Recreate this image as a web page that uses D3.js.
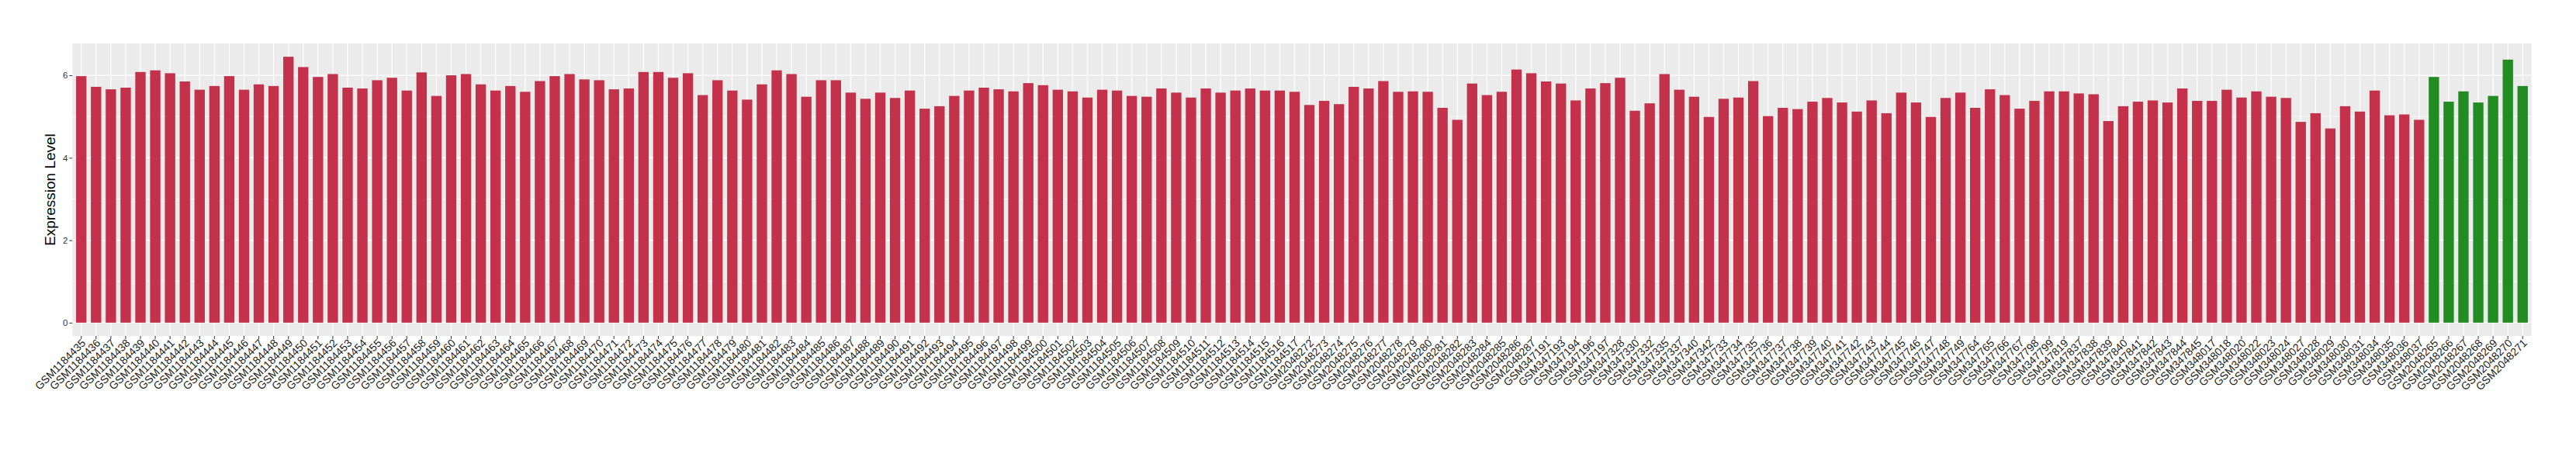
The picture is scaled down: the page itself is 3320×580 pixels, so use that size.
<!DOCTYPE html>
<html>
<head>
<meta charset="utf-8">
<script src="https://cdn.jsdelivr.net/npm/d3@7"></script>
<style>
  html, body { margin: 0; padding: 0; background: #fff; }
  svg { display: block; }
</style>
</head>
<body>
<svg id="chart" width="3320" height="580"></svg>
<script>
const samples = [
  "GSM1184435","GSM1184436","GSM1184437","GSM1184438","GSM1184439","GSM1184440","GSM1184441","GSM1184442","GSM1184443","GSM1184444",
  "GSM1184445","GSM1184446","GSM1184447","GSM1184448","GSM1184449","GSM1184450","GSM1184451","GSM1184452","GSM1184453","GSM1184454",
  "GSM1184455","GSM1184456","GSM1184457","GSM1184458","GSM1184459","GSM1184460","GSM1184461","GSM1184462","GSM1184463","GSM1184464",
  "GSM1184465","GSM1184466","GSM1184467","GSM1184468","GSM1184469","GSM1184470","GSM1184471","GSM1184472","GSM1184473","GSM1184474",
  "GSM1184475","GSM1184476","GSM1184477","GSM1184478","GSM1184479","GSM1184480","GSM1184481","GSM1184482","GSM1184483","GSM1184484",
  "GSM1184485","GSM1184486","GSM1184487","GSM1184488","GSM1184489","GSM1184490","GSM1184491","GSM1184492","GSM1184493","GSM1184494",
  "GSM1184495","GSM1184496","GSM1184497","GSM1184498","GSM1184499","GSM1184500","GSM1184501","GSM1184502","GSM1184503","GSM1184504",
  "GSM1184505","GSM1184506","GSM1184507","GSM1184508","GSM1184509","GSM1184510","GSM1184511","GSM1184512","GSM1184513","GSM1184514",
  "GSM1184515","GSM1184516","GSM1184517",
  "GSM2048272","GSM2048273","GSM2048274","GSM2048275","GSM2048276","GSM2048277","GSM2048278","GSM2048279","GSM2048280","GSM2048281",
  "GSM2048282","GSM2048283","GSM2048284","GSM2048285","GSM2048286","GSM2048287",
  "GSM347191","GSM347193","GSM347194","GSM347196","GSM347197","GSM347328","GSM347330","GSM347332","GSM347335","GSM347337",
  "GSM347340","GSM347342","GSM347733","GSM347734","GSM347735","GSM347736","GSM347737","GSM347738","GSM347739","GSM347740",
  "GSM347741","GSM347742","GSM347743","GSM347744","GSM347745","GSM347746","GSM347747","GSM347748","GSM347749","GSM347764",
  "GSM347765","GSM347766","GSM347767","GSM347798","GSM347799","GSM347819","GSM347837","GSM347838","GSM347839","GSM347840",
  "GSM347841","GSM347842","GSM347843","GSM347844","GSM347845","GSM348017","GSM348018","GSM348020","GSM348022","GSM348023",
  "GSM348024","GSM348027","GSM348028","GSM348029","GSM348030","GSM348031","GSM348034","GSM348035","GSM348036","GSM348037",
  "GSM2048265","GSM2048266","GSM2048267","GSM2048268","GSM2048269","GSM2048270","GSM2048271"
];

const values = [
  5.98,5.72,5.66,5.70,6.08,6.12,6.05,5.85,5.65,5.74,
  5.98,5.65,5.78,5.74,6.45,6.20,5.96,6.03,5.70,5.68,
  5.88,5.94,5.63,6.07,5.50,6.00,6.03,5.78,5.63,5.74,
  5.60,5.86,5.98,6.03,5.90,5.88,5.66,5.68,6.08,6.08,
  5.94,6.05,5.52,5.88,5.63,5.41,5.78,6.12,6.03,5.48,
  5.88,5.88,5.58,5.43,5.58,5.45,5.63,5.19,5.25,5.50,
  5.63,5.70,5.66,5.61,5.81,5.76,5.65,5.61,5.46,5.65,
  5.63,5.50,5.48,5.68,5.58,5.46,5.68,5.58,5.63,5.68,
  5.63,5.63,5.60,
  5.28,5.38,5.30,5.72,5.68,5.86,5.60,5.61,5.60,5.21,
  4.92,5.80,5.52,5.60,6.14,6.05,
  5.85,5.80,5.39,5.68,5.81,5.94,5.14,5.32,6.03,5.65,
  5.48,4.99,5.43,5.46,5.86,5.01,5.21,5.18,5.36,5.45,
  5.34,5.12,5.39,5.08,5.58,5.34,4.99,5.45,5.58,5.21,
  5.66,5.52,5.19,5.38,5.61,5.61,5.56,5.54,4.89,5.25,
  5.36,5.39,5.34,5.68,5.38,5.38,5.65,5.46,5.61,5.48,
  5.45,4.87,5.08,4.71,5.25,5.12,5.63,5.03,5.05,4.92,
  5.96,5.36,5.61,5.34,5.50,6.38,5.74
];

// group of each sample: first 159 are "case", last 7 are "control"
const groups = samples.map((s, i) => i < 159 ? "case" : "control");
const groupNames = ["case", "control"];
const groupColors = ["#C3314A", "#228B22"];

const yTicks = [0, 2, 4, 6];
const yMinor = [1, 3, 5];
const yTitle = "Expression Level";

const data = samples.map((s, i) => ({ sample: s, value: values[i], group: groups[i] }));

const svg = d3.select("#chart");
const panel = { left: 93.3, right: 3262.7, top: 56, bottom: 433 };

const x = d3.scaleBand()
  .domain(samples)
  .range([panel.left, panel.right])
  .paddingInner(0.3)
  .paddingOuter(0.25);

const vmax = d3.max(values);
const y = d3.scaleLinear()
  .domain([-0.05 * vmax, vmax * 1.05])
  .range([panel.bottom, panel.top]);

const color = d3.scaleOrdinal().domain(groupNames).range(groupColors);

// panel background
svg.append("rect")
  .attr("x", panel.left).attr("y", panel.top)
  .attr("width", panel.right - panel.left).attr("height", panel.bottom - panel.top)
  .attr("fill", "#EBEBEB");

// minor horizontal grid
svg.append("g").selectAll("line").data(yMinor).join("line")
  .attr("x1", panel.left).attr("x2", panel.right)
  .attr("y1", d => y(d)).attr("y2", d => y(d))
  .attr("stroke", "#fff").attr("stroke-width", 0.6);

// major horizontal grid
svg.append("g").selectAll("line").data(yTicks).join("line")
  .attr("x1", panel.left).attr("x2", panel.right)
  .attr("y1", d => y(d)).attr("y2", d => y(d))
  .attr("stroke", "#fff").attr("stroke-width", 1.2);

// vertical grid
svg.append("g").selectAll("line").data(samples).join("line")
  .attr("x1", d => x(d) + x.bandwidth() / 2).attr("x2", d => x(d) + x.bandwidth() / 2)
  .attr("y1", panel.top).attr("y2", panel.bottom)
  .attr("stroke", "#fff").attr("stroke-width", 1.2);

// bars
svg.append("g").selectAll("rect").data(data).join("rect")
  .attr("x", d => x(d.sample))
  .attr("width", x.bandwidth())
  .attr("y", d => y(d.value))
  .attr("height", d => y(0) - y(d.value))
  .attr("fill", d => color(d.group));

// y axis
const yAxis = d3.axisLeft(y).tickValues(yTicks).tickSize(4).tickPadding(2).tickFormat(d3.format("d"));
const gy = svg.append("g").attr("transform", `translate(${panel.left},0)`).call(yAxis);
gy.select(".domain").remove();
gy.selectAll(".tick line").attr("stroke", "#333333").attr("stroke-width", 1);
gy.selectAll(".tick text")
  .attr("fill", "#333333")
  .attr("font-family", "'Liberation Sans', Arial, sans-serif")
  .attr("font-size", "11.5px");

// x axis
const xAxis = d3.axisBottom(x).tickSize(4).tickPadding(2);
const gx = svg.append("g").attr("transform", `translate(0,${panel.bottom})`).call(xAxis);
gx.select(".domain").remove();
gx.selectAll(".tick line").attr("stroke", "#333333").attr("stroke-width", 1);
gx.selectAll(".tick text")
  .attr("fill", "#222222")
  .attr("font-family", "'Liberation Sans', Arial, sans-serif")
  .attr("font-size", "14px")
  .attr("text-anchor", "end")
  .attr("x", 0).attr("y", 0).attr("dy", null)
  .attr("transform", "translate(6.5,10) rotate(-45)");

// y title
svg.append("text")
  .attr("transform", `translate(71,${(panel.top + panel.bottom) / 2}) rotate(-90)`)
  .attr("text-anchor", "middle")
  .attr("font-family", "'Liberation Sans', Arial, sans-serif")
  .attr("font-size", "19px")
  .attr("fill", "#000")
  .text(yTitle);
</script>
</body>
</html>
